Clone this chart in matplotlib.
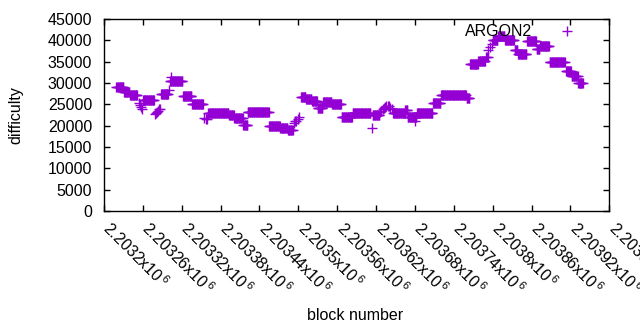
import matplotlib
matplotlib.use('Agg')
import matplotlib.pyplot as plt
import matplotlib.transforms as mtransforms
import numpy as np

plt.rcParams['font.family'] = ['Liberation Sans', 'DejaVu Sans']
plt.rcParams['mathtext.fontset'] = 'custom'
plt.rcParams['mathtext.rm'] = 'Liberation Sans'

# difficulty stays flat over runs of blocks (first block, last block, level)
plateau_first = [2203219, 2203231, 2203240, 2203260, 2203288, 2203302, 2203322, 2203336,
                 2203361, 2203393, 2203401, 2203415, 2203422, 2203455, 2203472, 2203484,
                 2203504, 2203512, 2203521, 2203530, 2203538, 2203552, 2203567, 2203584,
                 2203615, 2203646, 2203665, 2203669, 2203683, 2203708, 2203720, 2203760,
                 2203765, 2203778, 2203790, 2203800, 2203808, 2203819, 2203834, 2203839,
                 2203853, 2203868, 2203873, 2203888, 2203913, 2203922, 2203932]
plateau_last = [2203230, 2203239, 2203251, 2203277, 2203299, 2203321, 2203335, 2203353,
                2203392, 2203400, 2203414, 2203421, 2203454, 2203471, 2203483, 2203491,
                2203511, 2203520, 2203529, 2203537, 2203551, 2203566, 2203583, 2203611,
                2203625, 2203664, 2203668, 2203682, 2203707, 2203719, 2203759, 2203764,
                2203777, 2203788, 2203792, 2203807, 2203818, 2203833, 2203838, 2203852,
                2203867, 2203872, 2203887, 2203911, 2203921, 2203931, 2203939]
plateau_level = [29000, 27800, 27200, 26000, 27500, 30500, 27000, 25000,
                 23000, 22500, 21800, 20200, 23300, 20000, 19500, 18900,
                 26700, 26200, 25800, 24100, 25500, 25000, 22100, 22900,
                 22500, 23000, 23700, 22000, 22900, 25400, 27200, 26600,
                 34500, 35100, 36200, 40100, 41000, 40100, 37700, 36800,
                 39900, 38000, 38700, 34900, 32700, 31600, 29900]

# blocks in between the plateaus
single_block = [2203254, 2203256, 2203257, 2203259, 2203279, 2203280, 2203282, 2203283,
                2203285, 2203286, 2203300, 2203303, 2203355, 2203357, 2203359, 2203493,
                2203495, 2203497, 2203499, 2203501, 2203613, 2203626, 2203628, 2203630,
                2203632, 2203634, 2203636, 2203638, 2203640, 2203642, 2203644, 2203680,
                2203793, 2203796, 2203799]
single_level = [25400, 24800, 24300, 23800, 22700, 22900, 23200, 23500,
                23800, 24000, 28400, 31400, 21800, 21600, 21500, 20600,
                21000, 21200, 21500, 22000, 19500, 23200, 23500, 23800,
                24100, 24300, 24500, 24600, 24500, 24200, 23900, 21000,
                37700, 38500, 39200]

blocks = list(single_block)
difficulty = list(single_level)
for first, last, level in zip(plateau_first, plateau_last, plateau_level):
    for b in range(first, last + 1):
        blocks.append(b)
        difficulty.append(level)

x_ticks = np.arange(2203200, 2203981, 60)
y_ticks = np.arange(0, 45001, 5000)

fig = plt.figure(figsize=(6.4, 3.3), dpi=100)
ax = fig.add_axes([104 / 640, 1 - 211 / 330, 505.3 / 640, 192 / 330])

ax.plot(blocks, difficulty, linestyle='none', marker='+', color='#9400d3',
        markersize=7.2, markeredgewidth=1.0, label='ARGON2')

ax.set_xlim(2203200, 2203980)
ax.set_ylim(0, 45000)
ax.set_xticks(x_ticks)
ax.set_xticklabels([r'{:g}x$10^{{\,6}}$'.format(v / 1e6) for v in x_ticks],
                   rotation=-45, ha='left', va='top', rotation_mode='anchor')
ax.set_yticks(y_ticks)
ax.set_yticklabels([str(v) for v in y_ticks])
ax.tick_params(direction='in', length=4, width=1, top=True, right=True,
               labelsize=11.5, colors='black')
ax.tick_params(axis='x', pad=8)
ax.tick_params(axis='y', pad=8.5)
for s in ax.spines.values():
    s.set_linewidth(1)
    s.set_color('black')

# gnuplot starts the rotated labels right at the tick
shift = mtransforms.ScaledTranslation(9 / 100, 4 / 100, fig.dpi_scale_trans)
for lbl in ax.get_xticklabels():
    lbl.set_transform(lbl.get_transform() + shift)

fig.text(16 / 640, 1 - 115 / 330, 'difficulty', rotation=90, ha='center', va='center', fontsize=11.5)
fig.text(355 / 640, 1 - 315 / 330, 'block number', ha='center', va='center', fontsize=11.5)

ax.legend(loc='center right', bbox_to_anchor=(583 / 640, 1 - 32 / 330),
          bbox_transform=fig.transFigure, frameon=False, markerfirst=False,
          numpoints=1, handlelength=2, handletextpad=1.2, borderpad=0,
          borderaxespad=0, fontsize=11.5)

fig.savefig('out.png', dpi=100)
